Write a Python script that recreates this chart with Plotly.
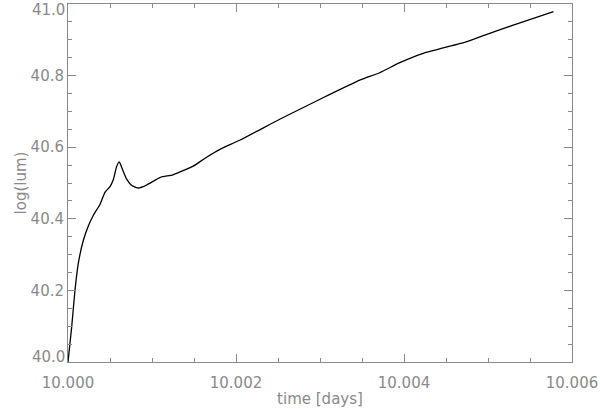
import plotly.graph_objects as go

# --- DATA ---
time_days = [10.00000, 10.000044, 10.000083, 10.000123, 10.000183, 10.000242,
             10.000302, 10.00038, 10.00044, 10.0005, 10.00054, 10.00058,
             10.00061, 10.00065, 10.0007, 10.00076, 10.00084, 10.00094,
             10.0011, 10.00125, 10.00149, 10.00165, 10.00181, 10.00205,
             10.00252, 10.0030, 10.00348, 10.00371, 10.00395, 10.00423,
             10.00475, 10.00502, 10.0053, 10.00578]
log_lum = [40.0, 40.098, 40.20, 40.276, 40.34, 40.38,
           40.41, 40.44, 40.474, 40.49, 40.51, 40.547,
           40.559, 40.537, 40.51, 40.493, 40.486, 40.495,
           40.516, 40.523, 40.547, 40.572, 40.594, 40.620,
           40.678, 40.734, 40.788, 40.808, 40.836, 40.862,
           40.895, 40.918, 40.941, 40.979]

x_ticks = [10.000, 10.002, 10.004, 10.006]
y_ticks = [40.0, 40.2, 40.4, 40.6, 40.8, 41.0]

GREY = "#8a8a8a"
FONT = dict(family="DejaVu Sans, sans-serif", size=15, color=GREY)

fig = go.Figure()
fig.add_trace(go.Scatter(x=time_days, y=log_lum, mode="lines",
                         line=dict(color="black", width=1.3, shape="spline", smoothing=0.5),
                         showlegend=False))

axis_style = dict(showgrid=False, zeroline=False, showline=True, linecolor=GREY,
                  linewidth=1, mirror="allticks", ticks="inside", ticklen=8,
                  tickcolor=GREY, tickwidth=1, tickfont=FONT, automargin=False,
                  ticklabeloverflow="allow")

# the end labels of the y axis are nudged inwards (like IDL does), so they are
# drawn as annotations; the middle ones stay normal tick labels
y_text = ["" if v in (y_ticks[0], y_ticks[-1]) else f"{v:.1f}" for v in y_ticks]

fig.update_xaxes(range=[9.99999999, 10.00600001], tickvals=x_ticks, tickformat=".3f",
                 minor=dict(dtick=0.0005, ticks="inside", ticklen=4, tickcolor=GREY),
                 ticklabelstandoff=7,
                 title=dict(text="time [days]", font=FONT, standoff=2),
                 **axis_style)
fig.update_yaxes(range=[39.99999, 41.00001], tickvals=y_ticks, ticktext=y_text,
                 minor=dict(dtick=0.05, ticks="inside", ticklen=4, tickcolor=GREY),
                 ticklabelstandoff=0,
                 title=dict(text="log(lum)", font=FONT, standoff=0),
                 **axis_style)

for v, shift in ((y_ticks[0], 5), (y_ticks[-1], -6)):
    fig.add_annotation(x=0, xref="paper", xanchor="right", xshift=-1,
                       y=v, yref="y", yanchor="middle", yshift=shift,
                       text=f"{v:.1f}", showarrow=False, font=FONT)

fig.update_layout(width=600, height=409, plot_bgcolor="white", paper_bgcolor="white",
                  margin=dict(l=68, r=28, t=4, b=47), font=FONT)

# page body has a default 8px margin; remove it so the figure sits at the corner
fig.write_html("out.html", config={"displayModeBar": False},
               post_script="document.body.style.margin='0';")
